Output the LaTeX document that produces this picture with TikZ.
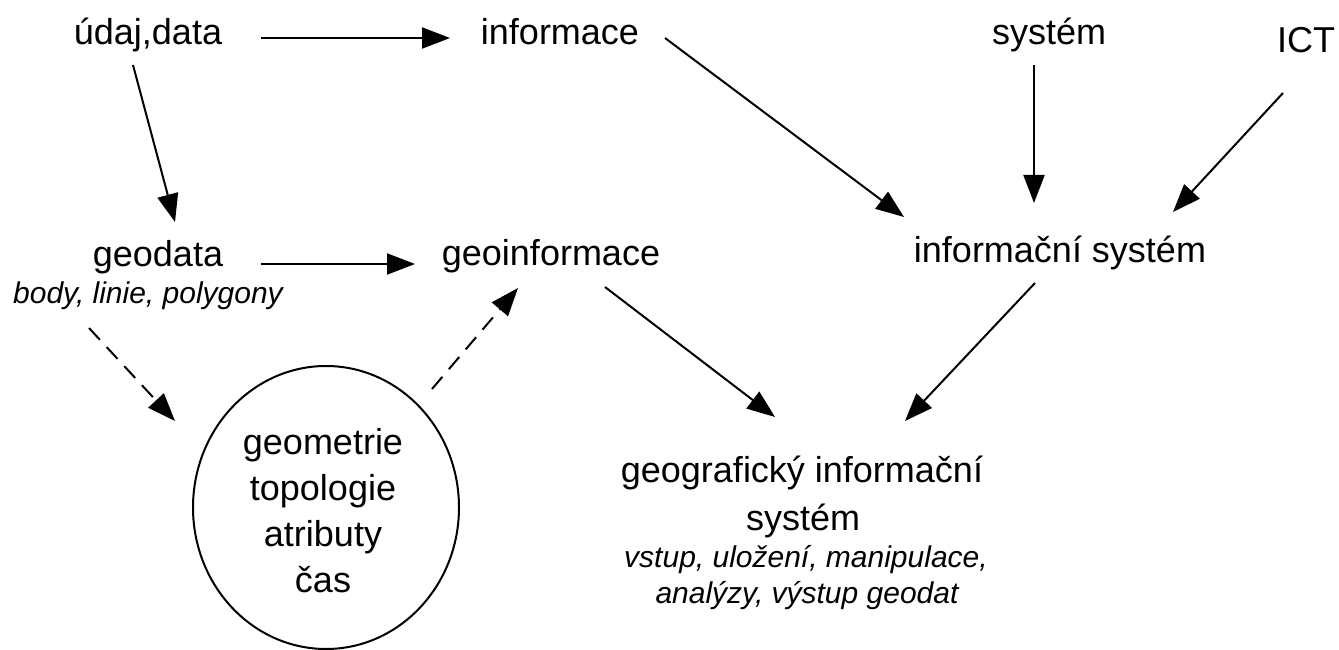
\documentclass[tikz,border=0pt]{standalone}
\usepackage{fontspec}
\setmainfont{Liberation Sans}
\usetikzlibrary{arrows.meta,calc,shapes.geometric}
\begin{document}
\begin{tikzpicture}[x=1pt,y=-1pt,
  lbl/.style={inner sep=0pt, anchor=base, font=\fontsize{36}{43}\selectfont},
  sub/.style={inner sep=0pt, anchor=base, font=\fontsize{30}{36}\selectfont\itshape},
  arr/.style={line width=2pt, -{Triangle[length=28pt,width=21pt]}},
  darr/.style={arr, dash pattern=on 16pt off 10pt}]
\useasboundingbox (0,0) rectangle (1339,650);
\fill[white] (0,0) rectangle (1339,650);
% nodes
\node[lbl] (udaj) at (148,45) {údaj,data};
\node[lbl] (info) at (560,45) {informace};
\node[lbl] (sys) at (1049,45) {systém};
\node[lbl] (ict) at (1306,53) {ICT};
\node[lbl] (geodata) at (158,266) {geodata};
\node[sub] (body) at (148,303) {body, linie, polygony};
\node[lbl] (geoinfo) at (551,265) {geoinformace};
\node[lbl] (is) at (1060,262) {informační systém};
\node[draw, ellipse, line width=2pt, minimum width=266pt, minimum height=283pt,
      inner sep=0pt] (circ) at (326,507.5) {};
\node[inner sep=0pt, align=center, font=\fontsize{36}{46}\selectfont] (circtext) at (323,511)
      {geometrie\\topologie\\atributy\\čas};
\node[lbl] (gis1) at (802,482) {geografický informační};
\node[lbl] (gis2) at (803,530) {systém};
\node[sub] (gis3) at (806,567) {vstup, uložení, manipulace,};
\node[sub] (gis4) at (807,603) {analýzy, výstup geodat};
% connectors
\draw[arr] ($(udaj.base)+(113,-7)$) -- ($(info.base)+(-110,-7)$);
\draw[arr] ($(udaj.base)+(-15,20)$) -- ($(geodata.base)+(17,-44)$);
\draw[arr] ($(info.base)+(105,-7)$) -- ($(is.base)+(-156,-45)$);
\draw[arr] ($(sys.base)+(-15,20)$) -- ($(is.base)+(-26,-59)$);
\draw[arr] ($(ict.base)+(-23,40)$) -- ($(is.base)+(113,-50)$);
\draw[arr] ($(geodata.base)+(103,-2)$) -- ($(geoinfo.base)+(-136,-1)$);
\draw[arr] ($(geoinfo.base)+(54,22)$) -- ($(gis1.base)+(-27,-65)$);
\draw[arr] ($(is.base)+(-25,21)$) -- ($(gis1.base)+(103,-61)$);
\draw[darr] ($(body.base)+(-59,25)$) -- ($(circ.center)+(-151,-86.5)$);
\draw[darr] ($(circ.center)+(106,-118.5)$) -- ($(geoinfo.base)+(-33,23)$);
\end{tikzpicture}
\end{document}
